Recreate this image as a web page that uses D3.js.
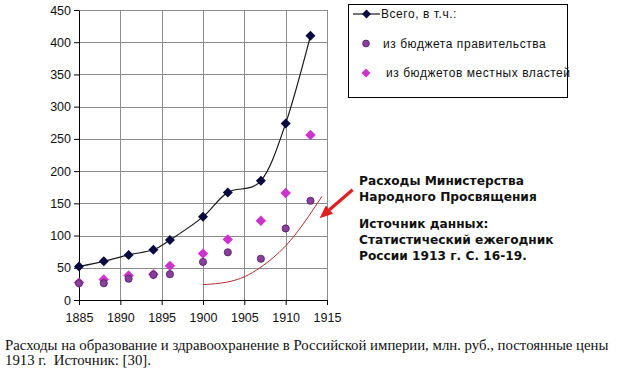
<!DOCTYPE html>
<html>
<head>
<meta charset="utf-8">
<script src="https://cdn.jsdelivr.net/npm/d3@7"></script>
<style>
  body { margin: 0; background: #fff; }
  svg { display: block; }
</style>
</head>
<body>
<div id="chart"></div>
<script>
// 1. SETUP
const width = 618;
const height = 374;
const plot = { left: 79, right: 327, top: 10, bottom: 300 };

// DATA
const years = [1885, 1888, 1891, 1894, 1896, 1900, 1903, 1907, 1910, 1913];
const totalValues = [52, 60, 70, 78, 93, 129, 167, 185, 274, 410];
const govValues = [26, 26, 33, 39, 40, 59, 74, 64, 111, 154];
const localValues = [27, 32, 38, 40, 53, 72, 94, 123, 166, 256];

// Ministry of Education line (red)
const ministryYears = [1900, 1903, 1905, 1907, 1910, 1914.4];
const ministryValues = [24, 28, 36, 51, 84, 161];

const xTicks = [1885, 1890, 1895, 1900, 1905, 1910, 1915];
const yTicks = [0, 50, 100, 150, 200, 250, 300, 350, 400, 450];

const legendLabels = ["Всего, в т.ч.:", "из бюджета правительства", "из бюджетов местных властей"];
const noteLines = ["Расходы Министерства", "Народного Просвящения"];
const sourceLines = ["Источник данных:", "Статистический ежегодник", "России 1913 г. С. 16-19."];
const captionLines = [
    "Расходы на образование и здравоохранение в Российской империи, млн. руб., постоянные цены",
    "1913 г.  Источник: [30]."
];

const svg = d3.select("#chart")
    .append("svg")
    .attr("width", width)
    .attr("height", height)
    .attr("viewBox", [0, 0, width, height]);

// --- SCALES ---
const x = d3.scaleLinear()
    .domain([1885, 1915])
    .range([plot.left, plot.right]);

const y = d3.scaleLinear()
    .domain([0, 450])
    .range([plot.bottom, plot.top]);

// --- GRID LINES ---
const gridColor = "#8c8c8c";

svg.append("g")
    .attr("shape-rendering", "crispEdges")
    .selectAll("line")
    .data(xTicks.slice(1))
    .join("line")
    .attr("x1", d => Math.round(x(d)) + 0.5)
    .attr("x2", d => Math.round(x(d)) + 0.5)
    .attr("y1", y(450))
    .attr("y2", y(0))
    .attr("stroke", gridColor)
    .attr("stroke-width", 1);

svg.append("g")
    .attr("shape-rendering", "crispEdges")
    .selectAll("line")
    .data(yTicks.slice(1))
    .join("line")
    .attr("x1", x(1885))
    .attr("x2", x(1915))
    .attr("y1", d => Math.round(y(d)) + 0.5)
    .attr("y2", d => Math.round(y(d)) + 0.5)
    .attr("stroke", gridColor)
    .attr("stroke-width", 1);

// --- AXES ---
svg.append("g")
    .attr("transform", `translate(0, ${plot.bottom})`)
    .call(d3.axisBottom(x).tickValues(xTicks).tickSize(5).tickPadding(8).tickFormat(d3.format("d")).tickSizeOuter(0))
    .call(g => g.selectAll("line, path").attr("stroke", "#000"))
    .call(g => g.selectAll("text")
        .attr("fill", "#111")
        .style("font-family", "'Liberation Sans', Arial, sans-serif")
        .style("font-size", "12.5px"));

svg.append("g")
    .attr("transform", `translate(${plot.left}, 0)`)
    .call(d3.axisLeft(y).tickValues(yTicks).tickSize(5).tickPadding(3).tickSizeOuter(0))
    .call(g => g.selectAll("line, path").attr("stroke", "#000"))
    .call(g => g.selectAll("text")
        .attr("fill", "#111")
        .style("font-family", "'Liberation Sans', Arial, sans-serif")
        .style("font-size", "12.5px"));

// --- LINES ---
const totalData = years.map((yr, i) => ({ year: yr, value: totalValues[i] }));
const govData = years.map((yr, i) => ({ year: yr, value: govValues[i] }));
const localData = years.map((yr, i) => ({ year: yr, value: localValues[i] }));
const ministryData = ministryYears.map((yr, i) => ({ year: yr, value: ministryValues[i] }));

svg.append("path")
    .datum(ministryData)
    .attr("fill", "none")
    .attr("stroke", "#b03030")
    .attr("stroke-width", 1)
    .attr("d", d3.line().x(d => x(d.year)).y(d => y(d.value)).curve(d3.curveMonotoneX));

svg.append("path")
    .datum(totalData)
    .attr("fill", "none")
    .attr("stroke", "#1a1a1a")
    .attr("stroke-width", 1.2)
    .attr("d", d3.line().x(d => x(d.year)).y(d => y(d.value)).curve(d3.curveCardinal.tension(0)));

// --- MARKERS ---
const diamond = s => `M0,${-s}L${s},0L0,${s}L${-s},0Z`;

svg.append("g")
    .selectAll("path")
    .data(localData)
    .join("path")
    .attr("transform", d => `translate(${x(d.year)},${y(d.value)})`)
    .attr("d", diamond(5.2))
    .attr("fill", "#cc33cc");

svg.append("g")
    .selectAll("circle")
    .data(govData)
    .join("circle")
    .attr("cx", d => x(d.year))
    .attr("cy", d => y(d.value))
    .attr("r", 3.6)
    .attr("fill", "#8a3f9f")
    .attr("stroke", "#4a1f5a")
    .attr("stroke-width", 0.8);

svg.append("g")
    .selectAll("path")
    .data(totalData)
    .join("path")
    .attr("transform", d => `translate(${x(d.year)},${y(d.value)})`)
    .attr("d", diamond(5))
    .attr("fill", "#0a0a40");

// --- LEGEND ---
const legend = svg.append("g").attr("transform", "translate(348, 4)");

legend.append("rect")
    .attr("x", 0.5).attr("y", 0.5)
    .attr("width", 219).attr("height", 93)
    .attr("fill", "#fff")
    .attr("stroke", "#000");

legend.append("line")
    .attr("x1", 5).attr("x2", 32).attr("y1", 10).attr("y2", 10)
    .attr("stroke", "#1a1a1a").attr("stroke-width", 1.2);
legend.append("path")
    .attr("transform", "translate(18.5,10)")
    .attr("d", diamond(4.5))
    .attr("fill", "#0a0a40");
legend.append("circle")
    .attr("cx", 18).attr("cy", 39.5).attr("r", 3.4)
    .attr("fill", "#8a3f9f").attr("stroke", "#4a1f5a").attr("stroke-width", 0.8);
legend.append("path")
    .attr("transform", "translate(18,69)")
    .attr("d", diamond(4.5))
    .attr("fill", "#cc33cc");

legend.selectAll(".leg-label")
    .data(legendLabels)
    .join("text")
    .attr("class", "leg-label")
    .attr("x", (d, i) => [33, 35, 38][i])
    .attr("y", (d, i) => 10 + i * 29.5)
    .attr("dy", "0.35em")
    .attr("fill", "#111")
    .style("font-family", "'Liberation Sans', Arial, sans-serif")
    .style("font-size", "12px")
    .style("letter-spacing", "0.55px")
    .text(d => d);

// --- ANNOTATION ---
const noteFont = "'DejaVu Sans', Verdana, sans-serif";

svg.append("g")
    .selectAll("text")
    .data(noteLines)
    .join("text")
    .attr("x", 359)
    .attr("y", (d, i) => 185 + i * 15.5)
    .attr("fill", "#111")
    .style("font-family", noteFont)
    .style("font-size", "12.2px")
    .style("font-weight", "bold")
    .text(d => d);

svg.append("g")
    .selectAll("text")
    .data(sourceLines)
    .join("text")
    .attr("x", 359)
    .attr("y", (d, i) => 228 + i * 16)
    .attr("fill", "#111")
    .style("font-family", noteFont)
    .style("font-size", "12.2px")
    .style("font-weight", "bold")
    .text(d => d);

// arrow pointing at the ministry line
const arrowFrom = { year: 1918.1, value: 171 };
const arrowTo = { year: 1914.1, value: 127 };
const ax1 = x(arrowFrom.year), ay1 = y(arrowFrom.value);
const ax2 = x(arrowTo.year), ay2 = y(arrowTo.value);
const ang = Math.atan2(ay2 - ay1, ax2 - ax1);
const headLen = 13, headW = 5.5;
const bx = ax2 - headLen * Math.cos(ang), by = ay2 - headLen * Math.sin(ang);

svg.append("line")
    .attr("x1", ax1).attr("y1", ay1)
    .attr("x2", bx).attr("y2", by)
    .attr("stroke", "#e02020")
    .attr("stroke-width", 3.2);

svg.append("path")
    .attr("d", `M${ax2},${ay2}` +
        `L${bx + headW * Math.sin(ang)},${by - headW * Math.cos(ang)}` +
        `L${bx - headW * Math.sin(ang)},${by + headW * Math.cos(ang)}Z`)
    .attr("fill", "#e02020");

// --- CAPTION ---
svg.append("g")
    .selectAll("text")
    .data(captionLines)
    .join("text")
    .attr("x", 5)
    .attr("y", (d, i) => 350 + i * 15)
    .attr("fill", "#111")
    .style("font-family", "'Liberation Serif', 'Times New Roman', serif")
    .style("font-size", "14.8px")
    .style("white-space", "pre")
    .text(d => d);
</script>
</body>
</html>
